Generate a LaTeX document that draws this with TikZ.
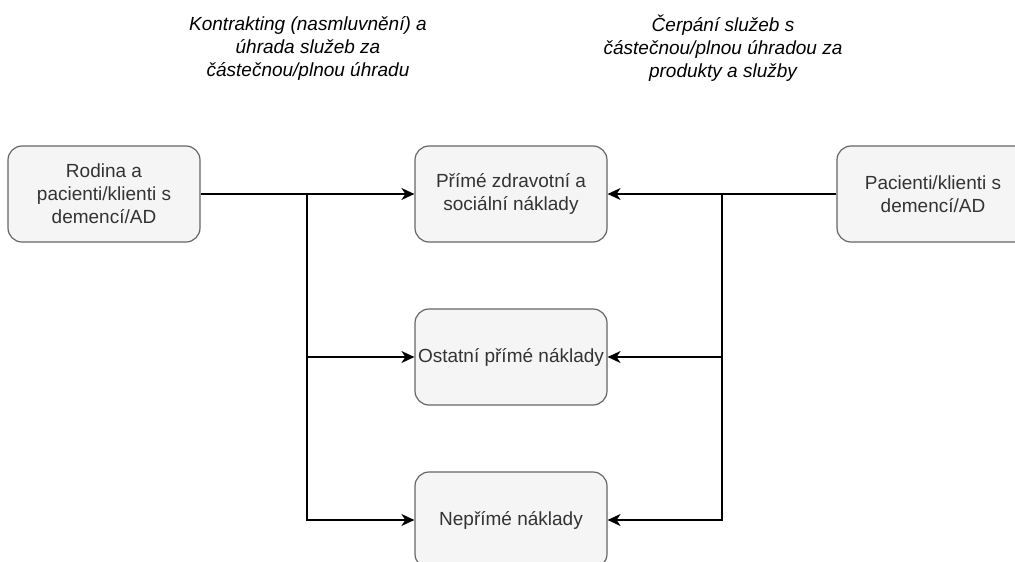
\documentclass[tikz,border=0pt]{standalone}
\usepackage{fontspec}
\setmainfont{Liberation Sans}
\usetikzlibrary{arrows.meta}
\definecolor{boxfill}{HTML}{F5F5F5}
\definecolor{boxline}{HTML}{666666}
\definecolor{boxtext}{HTML}{333333}
\begin{document}
\begin{tikzpicture}[x=1pt,y=-1pt,
  costbox/.style={draw=boxline, fill=boxfill, line width=1.2pt, rounded corners=14pt,
    minimum width=192pt, minimum height=96pt, inner sep=0pt, align=center,
    text=boxtext, font=\fontsize{19}{23}\selectfont},
  heading/.style={align=center, font=\fontsize{19}{23}\selectfont\itshape, text=black},
  flow/.style={draw=black, line width=1.6pt, -{Stealth[length=13pt,width=12pt,inset=4pt]}},
  trunk/.style={draw=black, line width=1.6pt}]
  \useasboundingbox (0,0) rectangle (1015,562);
  \clip (0,0) rectangle (1015,562);

  % payers and cost categories
  \node[costbox] (rodina) at (104,194) {Rodina a\\pacienti/klienti s\\demencí/AD};
  \node[costbox] (prime) at (511,194) {Přímé zdravotní a\\sociální náklady};
  \node[costbox] (ostatni) at (511,357) {Ostatní přímé náklady};
  \node[costbox] (neprime) at (511,520) {Nepřímé náklady};
  \node[costbox] (pacienti) at (933,194) {Pacienti/klienti s\\demencí/AD};

  % headings above the two distribution trunks
  \node[heading] (hleft) at (308,48) {Kontrakting (nasmluvnění) a\\úhrada služeb za\\částečnou/plnou úhradu};
  \node[heading] (hright) at (723,48) {Čerpání služeb s\\částečnou/plnou úhradou za\\produkty a služby};

  % branching points on the horizontal feeds
  \coordinate (jl) at (307,194);
  \coordinate (jr) at (722,194);

  % left side: family and patients
  \draw[flow] (rodina.east) -- (prime.west);
  \draw[flow] (jl) |- (ostatni.west);
  \draw[flow] (jl) |- (neprime.west);

  % right side: patients
  \draw[flow] (pacienti.west) -- (prime.east);
  \draw[flow] (jr) |- (ostatni.east);
  \draw[flow] (jr) |- (neprime.east);
\end{tikzpicture}
\end{document}
